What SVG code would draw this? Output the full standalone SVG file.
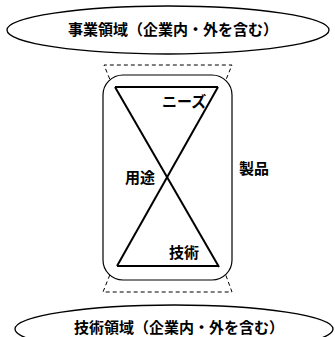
<svg xmlns="http://www.w3.org/2000/svg" width="335" height="337" viewBox="0 0 335 337">
<style>
.lbl{font-family:"Noto Sans CJK JP","Noto Sans",sans-serif;font-weight:bold;font-size:15px;fill:#000}
.ell{fill:#fff;stroke:#000;stroke-width:1.3}
.dash{fill:none;stroke:#000;stroke-width:1;stroke-dasharray:4,3}
.tri{fill:none;stroke:#000;stroke-width:2}
</style>
<rect width="335" height="337" fill="#fff"/>
<g id="jigyo">
<ellipse class="ell" cx="168" cy="30" rx="161" ry="24"/>
<text class="lbl" x="173" y="35" text-anchor="middle">事業領域（企業内・外を含む）</text>
</g>
<g id="gijutsu-ryoiki">
<ellipse class="ell" cx="174" cy="329" rx="159" ry="24"/>
<text class="lbl" x="179" y="333" text-anchor="middle">技術領域（企業内・外を含む）</text>
</g>
<g id="connectors">
<polyline class="dash" points="115,92 104,65 232,65 221,92"/>
<polyline class="dash" points="115,262 103,292 232,292 221,262"/>
</g>
<g id="seihin">
<rect x="103" y="75" width="129" height="205" rx="20" ry="20" fill="#fff" stroke="#000" stroke-width="1.2"/>
<text class="lbl" x="239" y="174">製品</text>
</g>
<g id="triangles">
<line class="tri" x1="115" y1="87" x2="218" y2="87"/>
<line class="tri" x1="117" y1="266" x2="218" y2="266"/>
<line class="tri" x1="115" y1="87" x2="219" y2="267"/>
<line class="tri" x1="218" y1="87" x2="117" y2="266"/>
</g>
<g id="needs"><text class="lbl" x="162" y="107">ニーズ</text></g>
<g id="yoto"><text class="lbl" x="125" y="183">用途</text></g>
<g id="gijutsu"><text class="lbl" x="169" y="258">技術</text></g>
</svg>
